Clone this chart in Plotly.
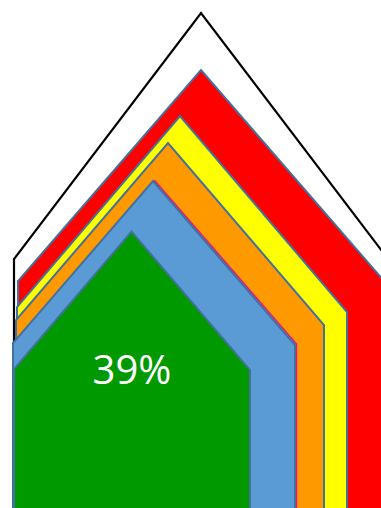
import plotly.graph_objects as go

# Nested "house" levels (outer to inner), in chart units (x to the right, y downward)
levels = ["Outline", "Red", "Yellow", "Orange", "Accent", "Blue", "Green"]
left_x = [14, 18, 17, 16, 15, 13, 14]
right_x = [388, 384, 347, 324, 296.5, 295, 250]
apex_x = [201, 201, 180, 168, 155, 153, 131.5]
apex_y = [13, 70, 116, 143, 181, 181, 231.5]
shoulder_left_y = [259, 281, 307, 320, 343, 343, 369]
shoulder_right_y = [259, 281, 312, 325, 344, 345, 370]
fills = ["#FFFFFF", "#FF0000", "#FFFF00", "#FF9900", "#5B9BD5", "#5B9BD5", "#009900"]
borders = ["#000000", "#41719C", "#41719C", "#41719C", "#E8197A", "#41719C", "#41719C"]
border_w = [2.2, 2, 2, 2, 1.5, 2, 2]
base_y = 530

label_text = "39%"
label_x = 132
label_y = 374

fig = go.Figure()
for i, name in enumerate(levels):
    xs = [left_x[i], left_x[i], apex_x[i], right_x[i], right_x[i], left_x[i]]
    ys = [base_y, shoulder_left_y[i], apex_y[i], shoulder_right_y[i], base_y, base_y]
    fig.add_trace(go.Scatter(
        x=xs, y=ys, mode="lines", fill="toself",
        fillcolor=fills[i],
        line=dict(color=borders[i], width=border_w[i]),
        name=name, hoverinfo="skip", showlegend=False,
    ))

fig.add_trace(go.Scatter(
    x=[label_x], y=[label_y], mode="text", text=[label_text],
    textfont=dict(family="Open Sans", size=40, color="#FFFFFF"),
    textposition="middle center", hoverinfo="skip", showlegend=False,
))

fig.update_layout(
    width=381, height=508,
    margin=dict(l=0, r=0, t=0, b=0),
    paper_bgcolor="#FFFFFF", plot_bgcolor="#FFFFFF",
    xaxis=dict(range=[0, 381], visible=False, fixedrange=True),
    yaxis=dict(range=[508, 0], visible=False, fixedrange=True),
)

fig.write_html("out.html")
